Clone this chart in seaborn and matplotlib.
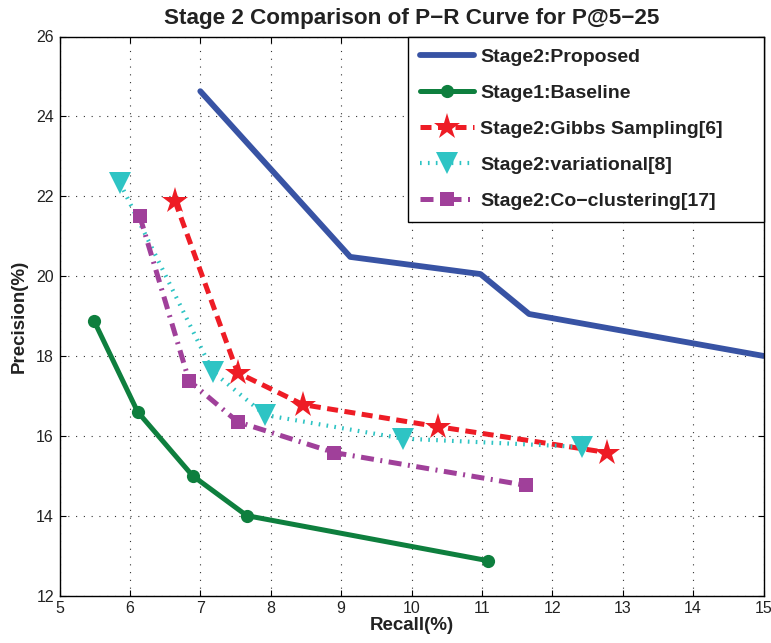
import matplotlib
matplotlib.use("Agg")
import matplotlib.pyplot as plt
import seaborn as sns
import pandas as pd

# ---- data ----
proposed_x = [7.0, 9.13, 10.98, 11.67, 15.0]
proposed_y = [24.63, 20.48, 20.05, 19.05, 18.0]

baseline_x = [5.49, 6.11, 6.89, 7.66, 11.09]
baseline_y = [18.88, 16.6, 15.0, 14.0, 12.87]

gibbs_x = [6.64, 7.53, 8.46, 10.37, 12.78]
gibbs_y = [21.88, 17.58, 16.78, 16.23, 15.58]

variational_x = [5.86, 7.18, 7.92, 9.88, 12.42]
variational_y = [22.33, 17.6, 16.52, 15.93, 15.72]

cocluster_x = [6.14, 6.84, 7.53, 8.9, 11.62]
cocluster_y = [21.5, 17.38, 16.35, 15.58, 14.76]

labels = ["Stage2:Proposed", "Stage1:Baseline", "Stage2:Gibbs Sampling[6]",
          "Stage2:variational[8]", "Stage2:Co\u2212clustering[17]"]

x_ticks = list(range(5, 16))
y_ticks = list(range(12, 27, 2))
title = "Stage 2 Comparison of P\u2212R Curve for P@5\u221225"
xlabel = "Recall(%)"
ylabel = "Precision(%)"

# ---- style ----
sns.set_theme(style="ticks")
plt.rcParams['font.family'] = ['Liberation Sans', 'DejaVu Sans']
plt.rcParams['axes.unicode_minus'] = True

W, H = 771, 643
fig = plt.figure(figsize=(W / 100, H / 100), dpi=100)
ax_l, ax_r, ax_t, ax_b = 59.5, 763.5, 36.5, 595.5
ax = fig.add_axes([ax_l / W, (H - ax_b) / H, (ax_r - ax_l) / W, (ax_b - ax_t) / H])

series = [
    (proposed_x, proposed_y, dict(color="#3853A4", lw=4.2, linestyle="-", marker=None)),
    (baseline_x, baseline_y, dict(color="#0E7F3E", lw=3.6, linestyle="-", marker="o", ms=9.5)),
    (gibbs_x, gibbs_y, dict(color="#EE1C25", lw=3.6, linestyle=(0, (2.2, 1.3)), marker="*", ms=20)),
    (variational_x, variational_y, dict(color="#2EC4C4", lw=3.0, linestyle=(0, (0.4, 1.5)), marker="v", ms=15.5)),
    (cocluster_x, cocluster_y, dict(color="#A0409A", lw=3.6, linestyle=(0, (2.6, 1.3, 0.4, 1.3)), marker="s", ms=10)),
]

for (xs, ys, st), lab in zip(series, labels):
    df = pd.DataFrame({"x": xs, "y": ys})
    kw = dict(st)
    mk = kw.pop("marker")
    extra = {}
    if mk is not None:
        extra = dict(marker=mk, markersize=kw.pop("ms"), markeredgewidth=0,
                     markerfacecolor=kw["color"])
    sns.lineplot(data=df, x="x", y="y", ax=ax, sort=False, label=lab,
                 color=kw["color"], linewidth=kw["lw"], linestyle=kw["linestyle"],
                 **extra)

ax.set_xlim(5, 15)
ax.set_ylim(12, 26)
ax.set_xticks(x_ticks)
ax.set_yticks(y_ticks)
ax.grid(True, color="#333333", linestyle=(0, (1, 6)), linewidth=0.8)
ax.tick_params(direction="in", length=4, width=0.8, top=True, right=True,
               labelsize=11.5, colors="black", labelcolor="#222222", pad=4)
for sp in ax.spines.values():
    sp.set_visible(True)
    sp.set_color("black")
    sp.set_linewidth(1.0)

ax.set_title(title, fontsize=16.2, fontweight="bold", color="#222222", pad=9)
ax.set_xlabel(xlabel, fontsize=13.5, fontweight="bold", color="#222222", labelpad=1)
ax.set_ylabel(ylabel, fontsize=13.5, fontweight="bold", color="#222222", labelpad=6)

# legend box spans x 408..763 px, y 37..223 px
lx0 = (408 - ax_l) / (ax_r - ax_l)
ly0 = (ax_b - 223) / (ax_b - ax_t)
leg = ax.legend(loc="upper right", bbox_to_anchor=(lx0, ly0, 1 - lx0, 1 - ly0),
                mode="expand", fancybox=False, frameon=True, borderaxespad=0,
                prop=dict(size=14, weight="bold"), labelspacing=0.94,
                handlelength=2.78, handletextpad=0.3, borderpad=0.62)
leg.get_frame().set_edgecolor("black")
leg.get_frame().set_linewidth(1.0)
leg.get_frame().set_alpha(1)
for t in leg.get_texts():
    t.set_color("#222222")

fig.savefig("out.png", dpi=100)
